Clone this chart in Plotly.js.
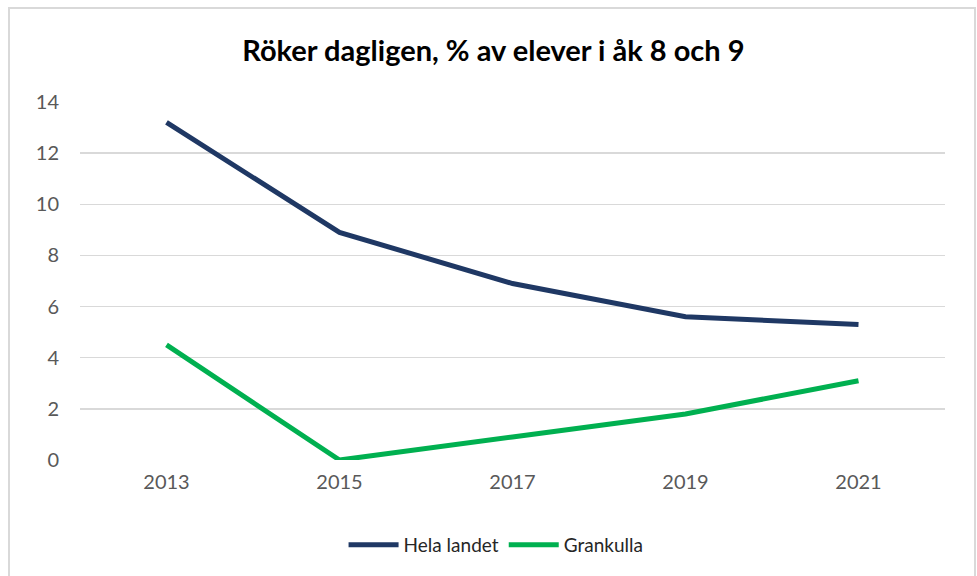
<!DOCTYPE html>
<html>
<head>
<meta charset="utf-8">
<script src="https://cdn.plot.ly/plotly-3.0.1.min.js"></script>
<style>
  html, body { margin: 0; padding: 0; background: #ffffff; }
  #wrap { position: relative; width: 977px; height: 576px; overflow: hidden; }
  #chart { position: absolute; left: 0; top: 0; width: 977px; height: 576px; }
  #frame { position: absolute; left: 8px; top: 7px; width: 964px; height: 600px;
           border: 2px solid #d9d9d9; pointer-events: none; }
</style>
</head>
<body>
<div id="wrap">
  <div id="chart"></div>
  <div id="frame"></div>
</div>
<script>
const years = ["2013", "2015", "2017", "2019", "2021"];
const helaLandet = [13.2, 8.9, 6.9, 5.6, 5.3];
const grankulla = [4.5, 0.0, 0.9, 1.8, 3.1];
const yTicks = [0, 2, 4, 6, 8, 10, 12, 14];

const font = "Lato, 'Open Sans', sans-serif";

const traces = [
  { x: years, y: helaLandet, type: "scatter", mode: "lines", name: "Hela landet",
    line: { color: "#1f3864", width: 5 }, hoverinfo: "x+y+name" },
  { x: years, y: grankulla, type: "scatter", mode: "lines", name: "Grankulla",
    line: { color: "#00b050", width: 5 }, hoverinfo: "x+y+name" }
];

const layout = {
  width: 977, height: 576,
  paper_bgcolor: "#ffffff", plot_bgcolor: "#ffffff",
  margin: { l: 80, r: 32, t: 102, b: 116 },
  title: { text: "<b>Röker dagligen, % av elever i åk 8 och 9</b>",
           font: { family: font, size: 29, color: "#000000" },
           x: 0.505, xanchor: "center", y: 0.912, yanchor: "middle" },
  xaxis: { type: "category", range: [-0.5, 4.5], showgrid: false, zeroline: false,
           showline: false, ticks: "", tickfont: { family: font, size: 20, color: "#595959" },
           ticklabelstandoff: 8 },
  yaxis: { range: [0, 14], tickvals: yTicks, ticktext: yTicks.map(String),
           showgrid: true, gridcolor: "#d9d9d9", gridwidth: 1.5, zeroline: false,
           showline: false, ticks: "", tickfont: { family: font, size: 20, color: "#595959" },
           ticklabelstandoff: 20 },
  showlegend: true,
  legend: { orientation: "h", x: 0.481, xanchor: "center", y: -0.237, yanchor: "middle",
            font: { family: font, size: 19, color: "#262626" }, itemwidth: 50,
            traceorder: "normal" }
};

Plotly.newPlot("chart", traces, layout, { displayModeBar: false, staticPlot: true });
</script>
</body>
</html>
